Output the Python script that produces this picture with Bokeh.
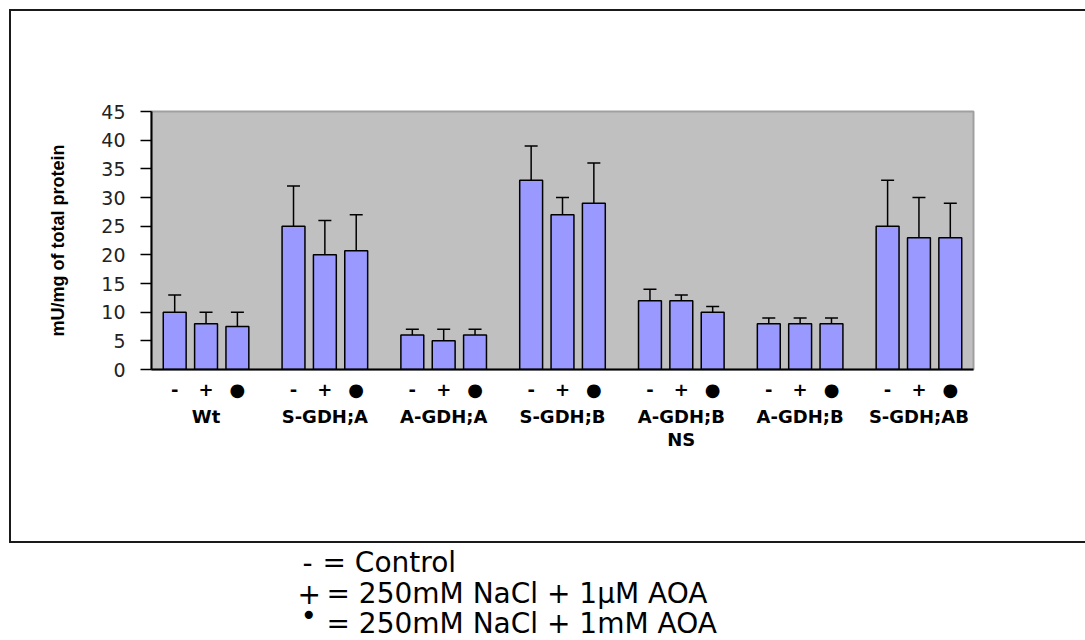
from bokeh.plotting import figure
from bokeh.layouts import column
from bokeh.models import (FactorRange, Range1d, Whisker, ColumnDataSource,
                          TeeHead, FixedTicker)
from bokeh.core.properties import value
from bokeh.embed import file_html
from bokeh.resources import INLINE

# ---- data ----
groups = ["Wt", "S-GDH;A", "A-GDH;A", "S-GDH;B", "A-GDH;B\nNS", "A-GDH;B", "S-GDH;AB"]
treatments = ["-", "+", "\u25cf"]
control = [10, 25, 6, 33, 12, 8, 25]
control_lo = [7, 18, 5, 27, 10, 7, 17]
control_hi = [13, 32, 7, 39, 14, 9, 33]
nacl_1uM = [8, 20, 5, 27, 12, 8, 23]
nacl_1uM_lo = [6, 14, 3, 24, 11, 7, 16]
nacl_1uM_hi = [10, 26, 7, 30, 13, 9, 30]
nacl_1mM = [7.5, 20.7, 6, 29, 10, 8, 23]
nacl_1mM_lo = [5, 15, 5, 22, 9, 7, 17]
nacl_1mM_hi = [10, 27, 7, 36, 11, 9, 29]
y_ticks = [0, 5, 10, 15, 20, 25, 30, 35, 40, 45]
y_label = "mU/mg of total protein"
legend_symbols = ["-", "+", "\u2022"]
legend_texts = ["= Control", "= 250mM NaCl + 1\u00b5M AOA", "= 250mM NaCl + 1mM AOA"]

series = [(control, control_lo, control_hi),
          (nacl_1uM, nacl_1uM_lo, nacl_1uM_hi),
          (nacl_1mM, nacl_1mM_lo, nacl_1mM_hi)]

factors = [(g, t) for g in groups for t in treatments]
tops, lows, highs = [], [], []
for gi in range(len(groups)):
    for ti in range(len(treatments)):
        vals, lo, hi = series[ti]
        tops.append(vals[gi])
        lows.append(lo[gi])
        highs.append(hi[gi])

src = ColumnDataSource(dict(x=factors, top=tops, lower=lows, upper=highs))

x_range = FactorRange(*factors, group_padding=0.79, factor_padding=0.0,
                      range_padding=0.24, range_padding_units="absolute")

# chart, framed by an outline (offset 11px from the page corner)
p = figure(width=1074, height=530, x_range=x_range, y_range=Range1d(0, 45),
           output_backend="svg", toolbar_location=None,
           min_border_left=140, min_border_right=112,
           min_border_top=100, min_border_bottom=172,
           margin=(11, 0, 0, 11),
           styles={"outline": "2px solid #1a1a1a"})

p.background_fill_color = "#C0C0C0"
p.border_fill_color = "white"
p.outline_line_color = "#A0A0A0"
p.outline_line_width = 2
p.xgrid.grid_line_color = None
p.ygrid.grid_line_color = None

p.vbar(x="x", top="top", width=0.73, source=src, fill_color="#9999FF",
       line_color="black", line_width=1.5)

w = Whisker(base="x", upper="upper", lower="lower", source=src,
            line_color="black", line_width=1.5,
            upper_head=TeeHead(size=13, line_color="black", line_width=1.5),
            lower_head=TeeHead(size=13, line_color="black", line_width=1.5))
p.add_layout(w)

# y axis
p.yaxis.ticker = FixedTicker(ticks=y_ticks)
p.yaxis.major_tick_out = 11
p.yaxis.major_tick_in = 0
p.yaxis.minor_tick_line_color = None
p.yaxis.axis_line_color = "black"
p.yaxis.axis_line_width = 2
p.yaxis.major_tick_line_color = "black"
p.yaxis.major_tick_line_width = 1.5
p.yaxis.major_label_text_font = "DejaVu Sans"
p.yaxis.major_label_text_font_size = "19px"
p.yaxis.major_label_text_color = "#222222"
p.yaxis.major_label_standoff = 15
p.yaxis.axis_label = y_label
p.yaxis.axis_label_text_font = "Liberation Sans"
p.yaxis.axis_label_text_font_style = "bold"
p.yaxis.axis_label_text_font_size = "18px"
p.yaxis.axis_label_text_color = "black"
p.yaxis.axis_label_standoff = 30

# x axis
p.xaxis.major_tick_line_color = None
p.xaxis.axis_line_color = "black"
p.xaxis.axis_line_width = 2
p.xaxis.separator_line_color = None
p.xaxis.major_label_text_font = "DejaVu Sans"
p.xaxis.major_label_text_font_style = "bold"
p.xaxis.major_label_text_font_size = "18px"
p.xaxis.major_label_text_color = "black"
p.xaxis.major_label_standoff = 3
p.xaxis.group_text_font = "DejaVu Sans"
p.xaxis.group_text_font_style = "bold"
p.xaxis.group_text_font_size = "18px"
p.xaxis.group_text_line_height = 1.1
p.xaxis.group_text_color = "black"

# legend (below the framed chart); frame matches page x coordinates 140..973
q = figure(width=1085, height=97, x_range=Range1d(140, 973), y_range=Range1d(97, 0),
           output_backend="svg", toolbar_location=None,
           x_axis_type=None, y_axis_type=None,
           min_border=0, min_border_left=140, min_border_right=112,
           min_border_top=0, min_border_bottom=0,
           margin=(2, 0, 0, 0))
q.outline_line_color = None
q.background_fill_alpha = 0
q.border_fill_alpha = 0
q.xgrid.grid_line_color = None
q.ygrid.grid_line_color = None

fnt = value("DejaVu Sans")
fs = "28px"
q.text(x=[302, 297], y=[19, 50], text=legend_symbols[:2],
       text_font=fnt, text_font_size=fs, text_color="black",
       text_baseline="middle")
q.text(x=[300], y=[72], text=legend_symbols[2:],
       text_font=fnt, text_font_size=fs, text_color="black",
       text_baseline="middle")
q.text(x=[322, 326, 326], y=[19, 50, 80], text=legend_texts,
       text_font=fnt, text_font_size=fs, text_color="black",
       text_baseline="middle")

layout = column(p, q, spacing=0)
open("out.html", "w").write(file_html(layout, INLINE))
